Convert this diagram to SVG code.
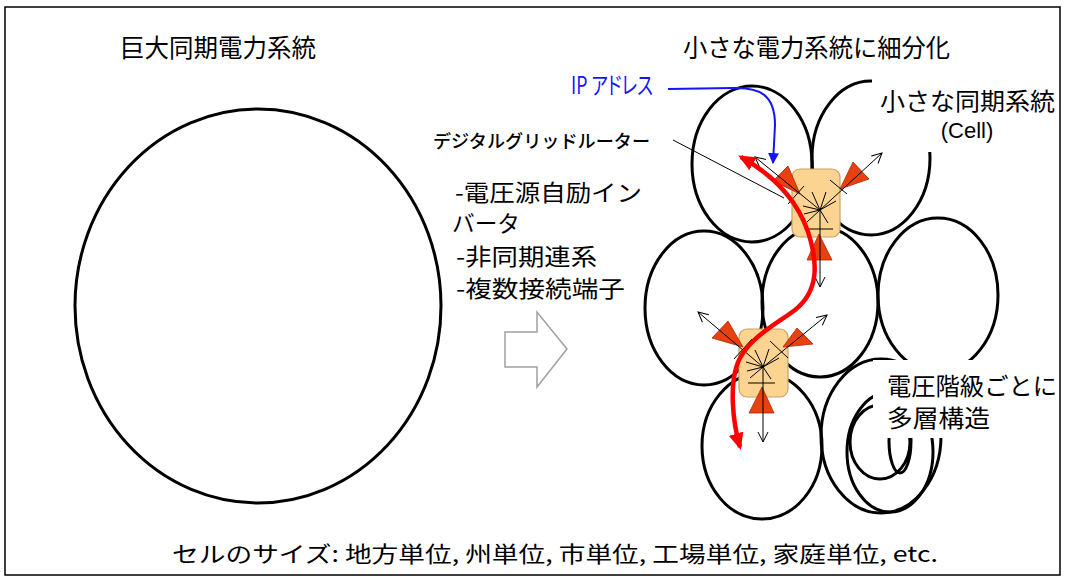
<svg xmlns="http://www.w3.org/2000/svg" width="1065" height="579" viewBox="0 0 1065 579">
<style>
.t{font-family:"Noto Sans CJK JP","Liberation Sans",sans-serif;fill:#000}
.cell{fill:none;stroke:#000;stroke-width:3}
.router{fill:#fad490;stroke:#c9a265;stroke-width:1.2}
.tri{fill:#e8400e;stroke:#a82a06;stroke-width:0.8}
.thin{stroke:#000;stroke-width:1;fill:none}
.out{stroke:#000;stroke-width:1;fill:none;marker-end:url(#openA)}
</style>
<defs>
<marker id="openA" viewBox="0 0 12 12" refX="11" refY="6" markerWidth="12" markerHeight="12" markerUnits="userSpaceOnUse" orient="auto">
<path d="M1,1 L11,6 L1,11" fill="none" stroke="#000" stroke-width="1"/>
</marker>
<marker id="redA" viewBox="0 0 16 14" refX="13" refY="7" markerWidth="17" markerHeight="15" markerUnits="userSpaceOnUse" orient="auto-start-reverse">
<path d="M0,0 L16,7 L0,14 z" fill="#ff0000"/>
</marker>
<marker id="blueA" viewBox="0 0 10 10" refX="9" refY="5" markerWidth="11" markerHeight="11" markerUnits="userSpaceOnUse" orient="auto">
<path d="M0,0 L10,5 L0,10 z" fill="#1414ff"/>
</marker>
</defs>
<rect x="0" y="0" width="1065" height="579" fill="#fff"/>
<rect x="5" y="7" width="1055" height="568" fill="none" stroke="#000" stroke-width="1.5"/>

<g id="titles">
<text class="t" x="120" y="57" font-size="25" textLength="196" lengthAdjust="spacingAndGlyphs">巨大同期電力系統</text>
<text class="t" x="683" y="57" font-size="25" textLength="267" lengthAdjust="spacingAndGlyphs">小さな電力系統に細分化</text>
</g>

<g id="big-system">
<ellipse cx="258" cy="306" rx="183" ry="197" class="cell"/>
</g>

<g id="features">
<text class="t" x="455" y="201" font-size="23" textLength="187" lengthAdjust="spacingAndGlyphs">-電圧源自励イン</text>
<text class="t" x="452" y="232" font-size="23" textLength="68" lengthAdjust="spacingAndGlyphs">バータ</text>
<text class="t" x="456" y="265" font-size="23" textLength="141" lengthAdjust="spacingAndGlyphs">-非同期連系</text>
<text class="t" x="456" y="297" font-size="23" textLength="169" lengthAdjust="spacingAndGlyphs">-複数接続端子</text>
</g>

<g id="transition-arrow">
<path d="M505,332 L537,332 L537,312 L567,349 L537,387 L537,367 L505,367 Z" fill="#fff" stroke="#a0a0a0" stroke-width="1.5"/>
</g>

<g id="cells">
<ellipse cx="752" cy="164" rx="60" ry="78" class="cell"/>
<ellipse cx="871" cy="158" rx="59" ry="77" class="cell"/>
<ellipse cx="704" cy="308" rx="59" ry="77" class="cell"/>
<ellipse cx="820" cy="302" rx="58" ry="75" class="cell"/>
<ellipse cx="938" cy="295" rx="60" ry="77" class="cell"/>
<ellipse cx="762" cy="446" rx="60" ry="73" class="cell"/>
<ellipse cx="881" cy="436" rx="60" ry="77" class="cell"/>
<ellipse cx="890" cy="452" rx="43" ry="60" class="cell"/>
<ellipse cx="880" cy="442" rx="30" ry="37" class="cell"/>
<ellipse cx="900" cy="441" rx="11" ry="32" class="cell"/>
</g>

<g id="cell-label">
<rect x="872" y="68" width="185" height="84" fill="#fff"/>
<text class="t" x="880" y="110" font-size="24" textLength="175" lengthAdjust="spacingAndGlyphs">小さな同期系統</text>
<text x="967" y="138" font-size="22" text-anchor="middle" font-family="Liberation Sans, Arial, sans-serif" fill="#000">(Cell)</text>
</g>

<g id="layer-label">
<rect x="873" y="360" width="185" height="78" fill="#fff"/>
<text class="t" x="887" y="395" font-size="24" textLength="170" lengthAdjust="spacingAndGlyphs">電圧階級ごとに</text>
<text class="t" x="887" y="427" font-size="24" textLength="103" lengthAdjust="spacingAndGlyphs">多層構造</text>
</g>

<g id="router-1">
<rect x="792" y="169" width="48" height="68" rx="8" class="router"/>
<polygon points="773,181 788,166 800,194" class="tri"/>
<polygon points="840,189 853,162 869,179" class="tri"/>
<polygon points="819,234 807,260 832,260" class="tri"/>
<line x1="820" y1="210" x2="755" y2="157" class="out"/>
<line x1="820" y1="210" x2="882" y2="153" class="out"/>
<line x1="820" y1="210" x2="820" y2="287" class="out"/>
<line x1="788" y1="204" x2="804" y2="186" class="thin"/>
<line x1="830" y1="180" x2="847" y2="194" class="thin"/>
<line x1="808" y1="229" x2="833" y2="229" class="thin"/>
<path d="M820,210 L803,206 M820,210 L812,192 M820,210 L826,192 M820,210 L836,201 M820,210 L807,222 M820,210 L828,223 M820,210 L804,214" class="thin"/>
</g>

<g id="router-2">
<rect x="739" y="329" width="49" height="68" rx="8" class="router"/>
<polygon points="712,338 728,321 743,347" class="tri"/>
<polygon points="783,347 797,328 813,344" class="tri"/>
<polygon points="762,387 749,413 774,413" class="tri"/>
<line x1="763" y1="367" x2="698" y2="312" class="out"/>
<line x1="763" y1="367" x2="827" y2="315" class="out"/>
<line x1="763" y1="367" x2="763" y2="442" class="out"/>
<line x1="734" y1="359" x2="752" y2="339" class="thin"/>
<line x1="770" y1="341" x2="788" y2="358" class="thin"/>
<line x1="748" y1="383" x2="775" y2="383" class="thin"/>
<path d="M763,367 L746,362 M763,367 L755,350 M763,367 L769,349 M763,367 L779,358 M763,367 L750,378 M763,367 L771,379 M763,367 L747,371" class="thin"/>
</g>

<g id="labels">
<text x="571" y="94" font-size="24" font-family="Noto Sans CJK JP, Liberation Sans, sans-serif" fill="#1414ff" style="font-feature-settings:'palt'" textLength="82" lengthAdjust="spacingAndGlyphs">IP アドレス</text>
<text class="t" x="433" y="148" font-size="18" font-weight="500" textLength="217" lengthAdjust="spacingAndGlyphs">デジタルグリッドルーター</text>
<text class="t" x="172" y="562" font-size="22" textLength="766" lengthAdjust="spacingAndGlyphs">セルのサイズ: 地方単位, 州単位, 市単位, 工場単位, 家庭単位, etc.</text>
</g>

<g id="connectors">
<line x1="673" y1="140" x2="784" y2="198" stroke="#000" stroke-width="1"/>
<path d="M668,89 L733,88 C760,87 775,95 775,125 L773,163" fill="none" stroke="#1414ff" stroke-width="2" marker-end="url(#blueA)"/>
<path d="M740,447 C732,420 730,385 737,365 C745,340 775,325 795,310 C820,290 816,262 811,242 C803,210 782,180 741,157" fill="none" stroke="#ff0000" stroke-width="4.5" marker-start="url(#redA)" marker-end="url(#redA)"/>
</g>
</svg>
